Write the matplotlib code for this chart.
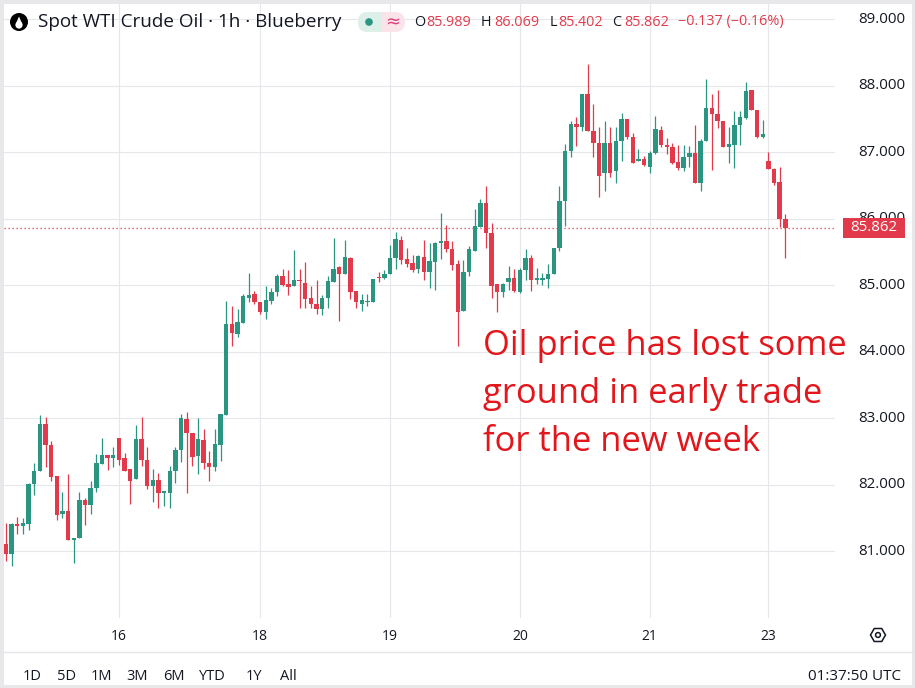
import numpy as np
import matplotlib
matplotlib.use('Agg')
import matplotlib.pyplot as plt
from matplotlib.patches import Rectangle, FancyBboxPatch, Circle, RegularPolygon, Polygon

# hourly candles (open, high, low, close)
opens = [81.10, 80.95, 81.41, 81.37, 81.40, 82.01, 82.20, 82.91, 82.60, 82.13,
         81.55, 81.60, 81.16, 81.19, 81.76, 81.69, 81.95, 82.31, 82.45, 82.40,
         82.70, 82.40, 82.24, 82.09, 82.68, 82.37, 81.98, 82.07, 81.87, 81.88,
         82.21, 82.52, 82.98, 82.77, 82.43, 82.67, 82.32, 82.27, 82.60, 83.05,
         84.42, 84.27, 84.43, 84.80, 84.86, 84.74, 84.60, 84.76, 84.89, 85.14,
         85.01, 84.99, 85.07, 85.03, 84.80, 84.71, 84.64, 84.81, 85.04, 85.27,
         85.17, 85.41, 84.91, 84.72, 84.75, 84.75, 85.12, 85.10, 85.16, 85.40,
         85.68, 85.39, 85.33, 85.24, 85.42, 85.19, 85.34, 85.63, 85.66, 85.54,
         85.32, 84.61, 85.19, 85.51, 85.88, 86.24, 85.78, 85.01, 84.90, 85.05,
         85.10, 84.90, 85.23, 85.41, 85.08, 85.08, 85.09, 85.16, 85.56, 86.27,
         87.01, 87.42, 87.37, 87.87, 87.31, 87.14, 86.68, 87.13, 86.72, 87.16,
         87.49, 87.23, 86.87, 86.90, 86.77, 86.99, 87.33, 87.11, 87.07, 86.85,
         86.76, 86.92, 86.98, 86.54, 87.16, 87.66, 87.57, 87.46, 87.08, 87.11,
         87.40, 87.51, 87.93, 87.63, 87.23, 86.87, 86.75, 86.55, 85.989]
highs = [81.42, 81.42, 81.51, 81.49, 82.02, 82.33, 83.04, 83.02, 82.65, 82.13,
         81.89, 82.16, 81.19, 81.89, 81.80, 82.05, 82.46, 82.70, 82.45, 82.56,
         82.70, 82.47, 82.24, 82.90, 83.01, 82.56, 82.23, 82.18, 81.91, 82.28,
         82.56, 83.06, 83.09, 82.77, 83.00, 82.84, 82.51, 82.84, 83.06, 84.76,
         84.69, 84.64, 84.86, 85.18, 84.91, 84.74, 84.99, 84.96, 85.17, 85.24,
         85.23, 85.53, 85.24, 85.34, 84.99, 85.08, 84.85, 85.14, 85.70, 85.29,
         85.68, 85.42, 84.91, 84.86, 84.86, 85.09, 85.20, 85.22, 85.60, 85.79,
         85.74, 85.56, 85.45, 85.45, 85.68, 85.63, 85.65, 86.08, 85.90, 85.66,
         85.38, 85.38, 85.58, 86.14, 86.29, 86.49, 85.94, 85.01, 85.03, 85.28,
         85.24, 85.25, 85.54, 85.45, 85.26, 85.18, 85.32, 85.55, 86.49, 87.12,
         87.47, 87.52, 87.88, 88.32, 87.72, 87.38, 87.47, 87.38, 87.38, 87.59,
         87.49, 87.28, 87.04, 86.94, 87.02, 87.54, 87.39, 87.21, 87.13, 87.11,
         87.11, 87.09, 87.41, 87.19, 88.10, 87.88, 87.93, 87.46, 87.38, 87.61,
         87.61, 88.05, 87.93, 87.63, 87.48, 87.00, 86.76, 86.77, 86.069]
lows = [80.85, 80.77, 81.25, 81.25, 81.31, 81.85, 82.20, 82.27, 82.06, 81.47,
        81.49, 81.16, 80.82, 81.19, 81.39, 81.56, 81.89, 82.31, 82.22, 82.27,
        82.29, 82.20, 81.71, 82.09, 82.28, 81.93, 81.73, 81.64, 81.68, 81.64,
        82.02, 82.34, 81.88, 82.28, 82.16, 82.23, 82.06, 82.21, 82.36, 83.05,
        84.09, 84.22, 84.43, 84.74, 84.71, 84.56, 84.49, 84.71, 84.84, 84.98,
        84.85, 84.99, 84.66, 84.66, 84.65, 84.56, 84.55, 84.66, 85.04, 84.46,
        85.17, 84.79, 84.66, 84.61, 84.69, 84.74, 85.04, 85.09, 85.16, 85.24,
        85.31, 85.27, 85.19, 85.18, 85.07, 84.96, 84.93, 85.39, 85.50, 85.23,
        84.09, 84.61, 85.13, 85.51, 85.88, 85.55, 84.80, 84.59, 84.82, 84.93,
        84.90, 84.88, 85.08, 84.91, 85.01, 85.00, 84.96, 85.16, 85.51, 85.89,
        86.92, 87.09, 87.32, 87.31, 86.92, 86.33, 86.42, 86.62, 86.53, 86.87,
        87.19, 86.84, 86.87, 86.79, 86.69, 86.97, 87.07, 86.97, 86.82, 86.73,
        86.71, 86.78, 86.54, 86.42, 87.16, 86.73, 87.36, 87.07, 86.84, 86.76,
        87.11, 87.49, 87.63, 87.21, 87.21, 86.74, 86.51, 85.87, 85.402]
closes = [80.95, 81.41, 81.37, 81.42, 82.01, 82.20, 82.91, 82.59, 82.12, 81.54,
          81.60, 81.16, 81.19, 81.76, 81.69, 81.95, 82.33, 82.44, 82.40, 82.45,
          82.37, 82.21, 82.06, 82.69, 82.37, 81.98, 82.07, 81.87, 81.91, 82.21,
          82.52, 83.00, 82.77, 82.42, 82.68, 82.32, 82.27, 82.61, 83.06, 84.42,
          84.28, 84.45, 84.83, 84.85, 84.75, 84.59, 84.77, 84.90, 85.14, 85.00,
          84.97, 85.08, 85.06, 84.79, 84.71, 84.64, 84.81, 85.06, 85.24, 85.17,
          85.42, 84.89, 84.74, 84.77, 84.76, 85.09, 85.10, 85.16, 85.40, 85.69,
          85.38, 85.32, 85.23, 85.43, 85.19, 85.36, 85.63, 85.66, 85.54, 85.30,
          84.60, 85.19, 85.54, 85.89, 86.24, 85.78, 84.99, 84.90, 85.01, 85.10,
          84.91, 85.23, 85.40, 85.08, 85.10, 85.10, 85.17, 85.55, 86.27, 87.01,
          87.42, 87.37, 87.88, 87.31, 87.13, 86.64, 87.13, 86.69, 87.16, 87.49,
          87.23, 86.84, 86.90, 86.81, 86.99, 87.34, 87.11, 87.07, 86.83, 86.76,
          86.92, 86.98, 86.54, 87.17, 87.66, 87.57, 87.46, 87.07, 87.12, 87.41,
          87.53, 87.92, 87.63, 87.22, 87.27, 86.75, 86.53, 85.99, 85.862]

day_labels = ['16', '18', '19', '20', '21', '23']
day_index = [20, 45, 68, 91, 114, 135]
price_ticks = [81, 82, 83, 84, 85, 86, 87, 88, 89]
last_price = 85.862

GREEN = '#2a9580'
RED = '#e23a4b'
GRID = '#e6e7ea'
TXT = '#131722'
FONT = 'Open Sans'

W, H = 915, 688
fig = plt.figure(figsize=(W / 100, H / 100), dpi=100)
fig.patch.set_facecolor('white')

# chart pane: 0..835 px wide, 0..618 px from top
ax = fig.add_axes([0, 70 / H, 835 / W, 618 / H])
ax.set_xlim(-1.06, 146.8)
ax.set_ylim(79.993, 89.286)
ax.axis('off')

for p in price_ticks:
    ax.axhline(p, color=GRID, lw=0.8, zorder=0)
for i in day_index:
    ax.axvline(i, color=GRID, lw=0.8, zorder=0)

o = np.array(opens)
c = np.array(closes)
hi = np.array(highs)
lo = np.array(lows)
x = np.arange(len(o))
cols = np.where(c >= o, GREEN, RED)

ax.vlines(x, lo, hi, colors=cols, lw=0.9, zorder=2)
body_h = np.maximum(np.abs(c - o), 0.016)
ax.bar(x, body_h, bottom=np.minimum(o, c), width=0.78, color=cols, lw=0, zorder=3)

# last price dotted line + label
ax.axhline(last_price, color=RED, lw=0.9, ls=(0, (1, 2.2)), zorder=1)

ytr = ax.get_yaxis_transform()
for p in price_ticks:
    if abs(p - last_price) < 0.25:
        # mostly hidden behind the last-price tag, only its top edge peeks out
        t = ax.text(905 / 835, p, f'{p:.3f}', transform=ytr, ha='right', va='center',
                    fontsize=10.8, color=TXT, family=FONT, clip_on=True)
        t.set_clip_box(None)
        clip = Rectangle((843 / 835, last_price + 0.15), 62 / 835, 0.2, transform=ytr)
        t.set_clip_path(clip)
        continue
    ax.text(905 / 835, p, f'{p:.3f}', transform=ytr, ha='right', va='center',
            fontsize=10.8, color=TXT, family=FONT, clip_on=False)
ax.add_patch(Rectangle((843 / 835, last_price - 0.15), 62 / 835, 0.30, transform=ytr,
                       fc=RED, ec='none', clip_on=False, zorder=5))
ax.text(874 / 835, last_price, f'{last_price:.3f}', transform=ytr, ha='center', va='center',
        fontsize=10.8, color='white', family=FONT, clip_on=False, zorder=6)

xtr = ax.get_xaxis_transform()
for lab, i in zip(day_labels, day_index):
    ax.text(i, -18 / 618, lab, transform=xtr, ha='center', va='center',
            fontsize=10, color=TXT, family=FONT, clip_on=False)

# annotation
note = ['Oil price has lost some', 'ground in early trade', 'for the new week']
for k, line in enumerate(note):
    ax.text(483 / 835, 1 - (355 + 48 * k) / 618, line, transform=ax.transAxes,
            fontsize=24.8, color='#e3161c', family=FONT, ha='left', va='baseline')

# overlay in pixel units for header / footer decoration
ov = fig.add_axes([0, 0, 1, 1], zorder=10)
ov.set_xlim(0, W)
ov.set_ylim(H, 0)
ov.axis('off')
ov.patch.set_alpha(0)

# symbol icon
ov.add_patch(Circle((19, 22), 9, fc='black', ec='none'))
ov.add_patch(Circle((19, 25), 3.6, fc='white', ec='none'))
ov.add_patch(Polygon([(15.6, 24.2), (19, 16.5), (22.4, 24.2)], fc='white', ec='none'))

ov.text(38, 22, 'Spot WTI Crude Oil · 1h · Blueberry', fontsize=13.6, color=TXT,
        family=FONT, ha='left', va='center')

ov.add_patch(FancyBboxPatch((358, 12), 47, 20, boxstyle='round,pad=0,rounding_size=10',
                            fc='#fbe3ea', ec='none'))
ov.add_patch(FancyBboxPatch((358, 12), 24, 20, boxstyle='round,pad=0,rounding_size=10',
                            fc='#dcefe8', ec='none'))
ov.add_patch(Rectangle((370, 12), 12, 20, fc='#dcefe8', ec='none'))
ov.add_patch(Circle((369, 22), 3.8, fc=GREEN, ec='none'))
ov.text(393, 22, '≈', fontsize=13, color='#d9407a', ha='center', va='center', family='DejaVu Sans')

ohlc_parts = [(414, 'O', TXT), (426, '85.989', RED), (481, 'H', TXT), (494, '86.069', RED),
              (550, 'L', TXT), (558, '85.402', RED), (612, 'C', TXT), (624, '85.862', RED),
              (678, '−0.137 (−0.16%)', RED)]
for px, s, col in ohlc_parts:
    ov.text(px, 22, s, fontsize=10.4, color=col, family=FONT, ha='left', va='center')

# footer
ov.plot([0, W], [652, 652], color=GRID, lw=1)
ov.add_patch(RegularPolygon((878, 635), 6, radius=7.5, orientation=np.pi / 6,
                            fill=False, ec=TXT, lw=1.1))
ov.add_patch(Circle((878, 635), 2.4, fill=False, ec=TXT, lw=1.1))

buttons = ['1D', '5D', '1M', '3M', '6M', 'YTD', '1Y', 'All']
button_x = [23, 57, 91, 126, 163, 199, 246, 280]
for bx, b in zip(button_x, buttons):
    ov.text(bx, 677, b, fontsize=10.5, color=TXT, family=FONT, ha='left', va='center')
ov.text(901, 677, '01:37:50 UTC', fontsize=11, color=TXT, family=FONT, ha='right', va='center')

# light frame around the widget
ov.add_patch(Rectangle((0, 0), W, H, fill=False, ec='#e8e8ea', lw=5))

fig.savefig('out.png', dpi=100)
